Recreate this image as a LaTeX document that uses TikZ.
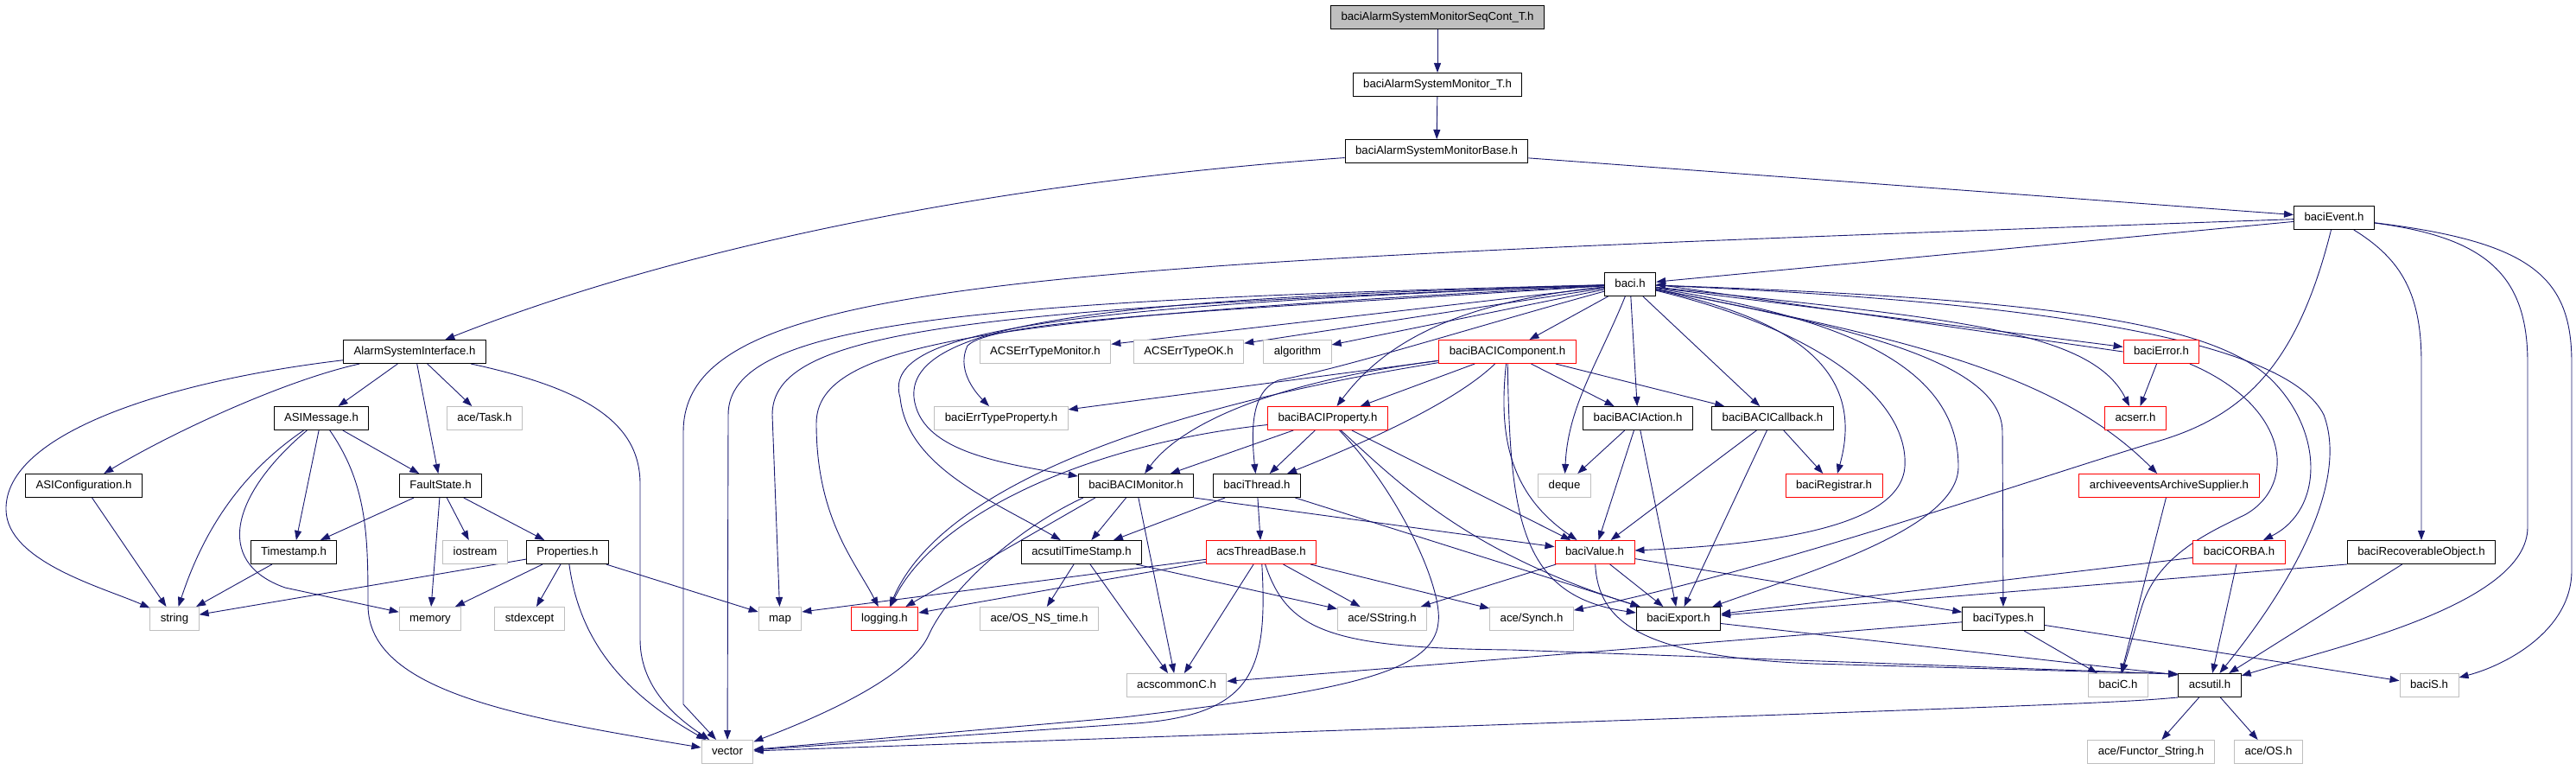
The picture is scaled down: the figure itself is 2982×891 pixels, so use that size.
\documentclass[tikz,border=0pt]{standalone}
\usepackage{fontspec}
\setmainfont{Liberation Sans}
\usetikzlibrary{arrows.meta}
\pgfdeclarelayer{background}
\pgfsetlayers{background,main}
\definecolor{edgeblue}{HTML}{191970}
\definecolor{extgray}{HTML}{BFBFBF}
\tikzset{
  file/.style={draw=black, fill=white, line width=1pt, minimum height=27pt, inner xsep=12pt, inner ysep=0pt,
    font=\fontsize{13.2}{15}\selectfont, text height=10pt, text depth=3pt},
  extfile/.style={file, draw=extgray},
  redfile/.style={file, draw=red},
  rootfile/.style={file, fill=extgray},
  dep/.style={draw=edgeblue, line width=0.9pt, -{Triangle[length=11pt,width=8pt]}},
}
\begin{document}
\begin{tikzpicture}[x=1pt,y=-1pt]
\useasboundingbox (0,0) rectangle (2982,891);

% files
\node[rootfile] (seqcont) at (1664,20) {baciAlarmSystemMonitorSeqCont\_T.h};
\node[file] (mont) at (1664,98) {baciAlarmSystemMonitor\_T.h};
\node[file] (monbase) at (1663,175) {baciAlarmSystemMonitorBase.h};
\node[file] (event) at (2702,252) {baciEvent.h};
\node[file] (baci) at (1887,329) {baci.h};

\node[file] (asi) at (480,407) {AlarmSystemInterface.h};
\node[extfile] (errmon) at (1210,407) {ACSErrTypeMonitor.h};
\node[extfile] (errok) at (1376,407) {ACSErrTypeOK.h};
\node[extfile] (algo) at (1502,407) {algorithm};
\node[redfile] (comp) at (1745,407) {baciBACIComponent.h};
\node[redfile] (error) at (2502,407) {baciError.h};

\node[extfile] (acetask) at (561,484) {ace/Task.h};
\node[file] (asimsg) at (372,484) {ASIMessage.h};
\node[extfile] (errprop) at (1159,484) {baciErrTypeProperty.h};
\node[redfile] (prop) at (1537,484) {baciBACIProperty.h};
\node[file] (action) at (1896,484) {baciBACIAction.h};
\node[file] (callback) at (2052,484) {baciBACICallback.h};
\node[redfile] (acserr) at (2472,484) {acserr.h};

\node[file] (asiconf) at (97,562) {ASIConfiguration.h};
\node[file] (fault) at (510,562) {FaultState.h};
\node[file] (monitor) at (1315,562) {baciBACIMonitor.h};
\node[file] (thread) at (1455,562) {baciThread.h};
\node[extfile] (deque) at (1811,562) {deque};
\node[redfile] (registrar) at (2123,562) {baciRegistrar.h};
\node[redfile] (archive) at (2511,562) {archiveeventsArchiveSupplier.h};

\node[file] (timestamp) at (340,639) {Timestamp.h};
\node[extfile] (iostream) at (550,639) {iostream};
\node[file] (props) at (657,639) {Properties.h};
\node[file] (tstamp) at (1252,639) {acsutilTimeStamp.h};
\node[redfile] (tbase) at (1460,639) {acsThreadBase.h};
\node[redfile] (value) at (1846,639) {baciValue.h};
\node[redfile] (corba) at (2592,639) {baciCORBA.h};
\node[file] (recov) at (2803,639) {baciRecoverableObject.h};

\node[extfile] (string) at (202,716) {string};
\node[extfile] (memory) at (498,716) {memory};
\node[extfile] (stdexcept) at (613,716) {stdexcept};
\node[extfile] (map) at (903,716) {map};
\node[redfile] (logging) at (1024,716) {logging.h};
\node[extfile] (osnstime) at (1203,716) {ace/OS\_NS\_time.h};
\node[extfile] (sstring) at (1600,716) {ace/SString.h};
\node[extfile] (synch) at (1773,716) {ace/Synch.h};
\node[file] (export) at (1943,716) {baciExport.h};
\node[file] (types) at (2319,716) {baciTypes.h};

\node[extfile] (commonc) at (1362,793) {acscommonC.h};
\node[extfile] (baciC) at (2452,793) {baciC.h};
\node[file] (acsutil) at (2558,793) {acsutil.h};
\node[extfile] (baciS) at (2812,793) {baciS.h};

\node[extfile] (vector) at (842,870) {vector};
\node[extfile] (functor) at (2490,870) {ace/Functor\_String.h};
\node[extfile] (os) at (2626,870) {ace/OS.h};

\begin{pgfonlayer}{background}
% top chain
\draw[dep] (seqcont) -- (mont);
\draw[dep] (mont) -- (monbase);
\draw[dep] (monbase) .. controls (1100,215) and (750,300) .. (asi);
\draw[dep] (monbase) -- (event);

% baciEvent.h
\draw[dep] (event) -- (baci);
\draw[dep] (event) .. controls (1200,305) and (791,320) .. (791,500) -- (791,815) -- (vector);
\draw[dep] (event) .. controls (2660,420) and (2600,480) .. (2500,510) .. controls (2350,555) and (2050,660) .. (synch);
\draw[dep] (event) .. controls (2780,300) and (2803,340) .. (2803,420) -- (recov);
\draw[dep] (event) .. controls (2880,275) and (2926,320) .. (2926,420) -- (2926,610) .. controls (2926,700) and (2700,750) .. (acsutil);
\draw[dep] (event) .. controls (2930,280) and (2977,320) .. (2977,420) -- (2977,660) .. controls (2977,730) and (2900,770) .. (baciS);

% AlarmSystemInterface.h
\draw[dep] (asi) .. controls (200,440) and (5,500) .. (7,590) .. controls (8,650) and (120,680) .. (string);
\draw[dep] (asi) .. controls (330,440) and (200,500) .. (asiconf);
\draw[dep] (asi) -- (asimsg);
\draw[dep] (asi) -- (fault);
\draw[dep] (asi) -- (acetask);
\draw[dep] (asi) .. controls (680,450) and (741,490) .. (741,560) -- (741,740) .. controls (741,800) and (790,835) .. (vector);

% ASIMessage.h
\draw[dep] (asimsg) -- (fault);
\draw[dep] (asimsg) -- (timestamp);
\draw[dep] (asimsg) .. controls (290,540) and (240,600) .. (string);
\draw[dep] (asimsg) .. controls (270,570) and (245,650) .. (330,680) -- (memory);
\draw[dep] (asimsg) .. controls (425,560) and (426,620) .. (426,700) .. controls (426,800) and (600,830) .. (vector);

\draw[dep] (asiconf) -- (string);
\draw[dep] (fault) -- (timestamp);
\draw[dep] (fault) -- (iostream);
\draw[dep] (fault) -- (memory);
\draw[dep] (fault) -- (props);
\draw[dep] (timestamp) -- (string);

% Properties.h
\draw[dep] (props) -- (string);
\draw[dep] (props) -- (memory);
\draw[dep] (props) -- (stdexcept);
\draw[dep] (props) -- (map);
\draw[dep] (props) .. controls (668,720) and (700,790) .. (vector);

% baci.h
\draw[dep] (baci) -- (errmon);
\draw[dep] (baci) -- (errok);
\draw[dep] (baci) -- (algo);
\draw[dep] (baci) -- (comp);
\draw[dep] (baci) .. controls (1400,360) and (1150,370) .. (1120,400) .. controls (1108,425) and (1125,450) .. (errprop);
\draw[dep] (baci) .. controls (1680,350) and (1600,400) .. (prop);
\draw[dep] (baci) .. controls (1300,345) and (1050,370) .. (1058,460) .. controls (1065,520) and (1150,535) .. (monitor);
\draw[dep] (baci) .. controls (1200,355) and (1020,385) .. (1042,460) .. controls (1050,540) and (1150,580) .. (tstamp);
\draw[dep] (baci) .. controls (1100,348) and (843,375) .. (843,480) -- (vector);
\draw[dep] (baci) .. controls (1100,358) and (894,385) .. (894,480) -- (map);
\draw[dep] (baci) .. controls (1150,368) and (945,395) .. (945,490) .. controls (945,600) and (990,650) .. (logging);
\draw[dep] (baci) .. controls (1700,380) and (1560,425) .. (1480,440) .. controls (1455,450) and (1446,480) .. (thread);
\draw[dep] (baci) .. controls (1850,420) and (1815,470) .. (deque);
\draw[dep] (baci) -- (action);
\draw[dep] (baci) -- (callback);
\draw[dep] (baci) .. controls (2080,370) and (2160,430) .. (registrar);
\draw[dep] (baci) .. controls (2150,380) and (2318,420) .. (2318,500) -- (types);
\draw[dep] (baci) .. controls (2150,370) and (2267,430) .. (2267,540) .. controls (2267,610) and (2100,660) .. (export);
\draw[dep] (baci) .. controls (2100,380) and (2210,460) .. (2205,540) .. controls (2200,610) and (2050,630) .. (value);
\draw[dep] (baci) -- (error);
\draw[dep] (baci) .. controls (2250,368) and (2420,380) .. (acserr);
\draw[dep] (baci) .. controls (2200,390) and (2380,430) .. (archive);
\draw[dep] (baci) .. controls (2350,345) and (2560,370) .. (2630,440) .. controls (2690,500) and (2690,590) .. (corba);
\draw[dep] (baci) .. controls (2400,350) and (2650,400) .. (2690,480) .. controls (2720,560) and (2650,680) .. (acsutil);

% baciError.h
\draw[dep] (error.west) -- (baci.east);
\draw[dep] (error) -- (acserr);
\draw[dep] (error) .. controls (2650,470) and (2660,560) .. (2600,595) .. controls (2560,615) and (2500,640) .. (2480,700) -- (baciC);

% baciBACIComponent.h
\draw[dep] (comp) -- (errprop);
\draw[dep] (comp) -- (prop);
\draw[dep] (comp) .. controls (1450,445) and (1360,500) .. (monitor);
\draw[dep] (comp) .. controls (1680,470) and (1560,520) .. (thread);
\draw[dep] (comp) -- (action);
\draw[dep] (comp) -- (callback);
\draw[dep] (comp) .. controls (1735,500) and (1745,570) .. (value);
\draw[dep] (comp) .. controls (1748,600) and (1760,690) .. (export);
\draw[dep] (comp) .. controls (1350,470) and (1090,560) .. (logging);

% baciBACIProperty.h
\draw[dep] (prop) -- (monitor);
\draw[dep] (prop) -- (thread);
\draw[dep] (prop) -- (value);
\draw[dep] (prop) .. controls (1620,560) and (1700,640) .. (export);
\draw[dep] (prop) .. controls (1250,515) and (1080,600) .. (logging);
\draw[dep] (prop) .. controls (1620,570) and (1670,680) .. (1665,720) .. controls (1660,780) and (1550,800) .. (1300,830) -- (vector);

% baciBACIMonitor.h
\draw[dep] (monitor) -- (tstamp);
\draw[dep] ([xshift=20pt]monitor.south west) -- (logging);
\draw[dep] (monitor) -- (commonc);
\draw[dep] (monitor.south east) -- (value);
\draw[dep] ([xshift=6pt]monitor.south west) .. controls (1180,610) and (1100,680) .. (1075,735) .. controls (1050,790) and (920,840) .. (vector);

% baciThread.h, baciBACIAction.h, baciBACICallback.h
\draw[dep] (thread) -- (tstamp);
\draw[dep] (thread) -- (tbase);
\draw[dep] (thread) -- (export);
\draw[dep] (action) -- (deque);
\draw[dep] (action) -- (value);
\draw[dep] (action) -- (export);
\draw[dep] (callback) -- (registrar);
\draw[dep] (callback) -- (value);
\draw[dep] (callback) -- (export);

% acsutilTimeStamp.h, acsThreadBase.h
\draw[dep] (tstamp) -- (osnstime);
\draw[dep] (tstamp) -- (commonc);
\draw[dep] (tstamp) -- (sstring);
\draw[dep] (tbase) -- ([yshift=8pt]map.east);
\draw[dep] (tbase) -- (logging);
\draw[dep] (tbase) -- (sstring);
\draw[dep] (tbase) -- (synch);
\draw[dep] (tbase) -- (commonc);
\draw[dep] (tbase) .. controls (1468,780) and (1450,830) .. (1300,838) -- (vector);
\draw[dep] (tbase) .. controls (1490,730) and (1540,750) .. (1750,752) -- ([yshift=13pt]acsutil.west);

% baciValue.h and below
\draw[dep] (value) -- (sstring);
\draw[dep] (value) -- (export);
\draw[dep] (value) -- (types);
\draw[dep] (value) .. controls (1850,720) and (1900,760) .. (2100,768) -- ([yshift=13pt]acsutil.west);
\draw[dep] (export) -- ([yshift=12pt]acsutil.west);
\draw[dep] (types) -- (commonc);
\draw[dep] (types) -- (baciC);
\draw[dep] (types) -- (baciS);
\draw[dep] (archive) -- (baciC);
\draw[dep] (corba) -- (export);
\draw[dep] (corba) -- (acsutil);
\draw[dep] (recov.south west) -- (export);
\draw[dep] (recov) -- (acsutil);
\draw[dep] (acsutil.south west) .. controls (2440,814) .. (vector);
\draw[dep] (acsutil) -- (functor);
\draw[dep] (acsutil) -- (os);
\end{pgfonlayer}
\end{tikzpicture}
\end{document}
